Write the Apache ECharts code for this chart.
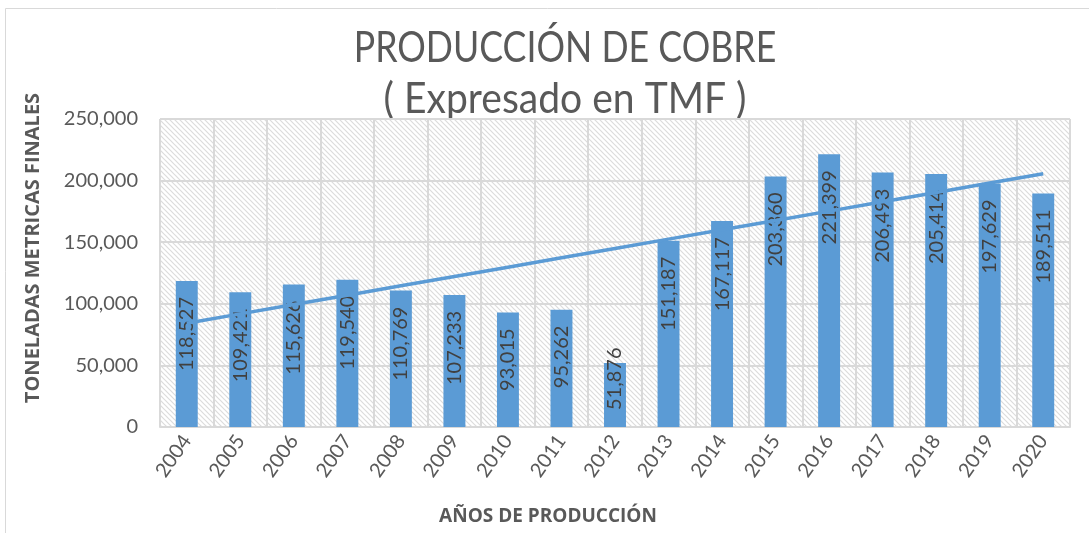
<!DOCTYPE html>
<html>
<head>
<meta charset="utf-8">
<script src="https://cdn.jsdelivr.net/npm/echarts@6/dist/echarts.min.js"></script>
<style>
  html, body { margin: 0; padding: 0; background: #fff; }
  #main { width: 1089px; height: 533px; }
</style>
</head>
<body>
<div id="main"></div>
<script>
    // datos de la grafica
    var years = ['2004','2005','2006','2007','2008','2009','2010','2011','2012','2013','2014','2015','2016','2017','2018','2019','2020'];
    var produccion = [118527, 109421, 115626, 119540, 110769, 107233, 93015, 95262, 51876, 151187, 167117, 203360, 221399, 206493, 205414, 197629, 189511];
    var yTicks = [0, 50000, 100000, 150000, 200000, 250000];

    // tendencia lineal (minimos cuadrados, como la linea de Excel)
    var n = produccion.length, sx = 0, sy = 0, sxy = 0, sxx = 0;
    for (var i = 0; i < n; i++) {
        sx += i; sy += produccion[i]; sxy += i * produccion[i]; sxx += i * i;
    }
    var b = (n * sxy - sx * sy) / (n * sxx - sx * sx);
    var a = (sy - b * sx) / n;
    var tendencia = produccion.map(function (v, i) { return a + b * i; });

    // barras cortas: la etiqueta se apoya en la base, como en Excel
    var barras = produccion.map(function (v) {
        if (v < 70000) {
            return { value: v, label: { position: 'insideBottom', align: 'left', distance: 17 } };
        }
        return v;
    });

    // fondo rayado
    var pat = document.createElement('canvas');
    pat.width = 5; pat.height = 5;
    var ctx = pat.getContext('2d');
    ctx.fillStyle = '#ffffff';
    ctx.fillRect(0, 0, 5, 5);
    ctx.strokeStyle = '#dcdcdc';
    ctx.lineWidth = 1.2;
    ctx.beginPath();
    ctx.moveTo(-1, -1); ctx.lineTo(6, 6);
    ctx.moveTo(-4, 1); ctx.lineTo(2, 7);
    ctx.moveTo(1, -4); ctx.lineTo(7, 2);
    ctx.stroke();

    var fmt = function (v) { return Number(v).toLocaleString('en-US'); };
    var gris = '#595959';

    var myChart = echarts.init(document.getElementById('main'));
    var option = {
        animation: false,
        textStyle: { fontFamily: 'Lato, "Open Sans", sans-serif' },
        graphic: [{
            type: 'rect',
            shape: { x: 5.5, y: 8.5, width: 1100, height: 540 },
            style: { fill: 'none', stroke: '#d9d9d9', lineWidth: 1 },
            silent: true
        }, {
            type: 'text',
            x: 565, y: 48, scaleX: 0.85,
            style: { text: 'PRODUCCIÓN DE COBRE', fill: gris, font: '400 42px Lato', align: 'center', verticalAlign: 'middle' }
        }, {
            type: 'text',
            x: 565, y: 99, scaleX: 0.93,
            style: { text: '( Expresado en TMF )', fill: gris, font: '400 42px Lato', align: 'center', verticalAlign: 'middle' }
        }, {
            type: 'text',
            x: 33, y: 248, rotation: Math.PI / 2,
            style: { text: 'TONELADAS METRICAS FINALES', fill: gris, font: 'bold 20px "Open Sans"', align: 'center', verticalAlign: 'middle' }
        }, {
            type: 'text',
            x: 548, y: 517,
            style: { text: 'AÑOS DE PRODUCCIÓN', fill: gris, font: 'bold 19px "Open Sans"', align: 'center', verticalAlign: 'middle' }
        }],
        grid: {
            left: 160, right: 19, top: 119, bottom: 106,
            show: true,
            backgroundColor: { image: pat, repeat: 'repeat' },
            borderWidth: 0
        },
        xAxis: {
            type: 'category',
            data: years,
            axisLine: { lineStyle: { color: '#d9d9d9', width: 2 } },
            axisTick: { show: false },
            splitLine: { show: true, lineStyle: { color: '#d9d9d9', width: 2 } },
            axisLabel: { rotate: 55, fontSize: 20, color: gris, margin: 10 }
        },
        yAxis: {
            type: 'value',
            min: 0, max: 250000, interval: 50000,
            axisLine: { show: false },
            axisTick: { show: false },
            splitLine: { lineStyle: { color: '#d9d9d9', width: 2 } },
            axisLabel: {
                fontSize: 20, color: gris, margin: 22,
                formatter: function (v) { return yTicks.indexOf(v) >= 0 ? fmt(v) : ''; }
            }
        },
        series: [{
            name: 'Producción',
            type: 'bar',
            data: barras,
            barWidth: '41%',
            itemStyle: { color: '#5b9bd5' },
            label: {
                show: true,
                position: 'insideTop',
                rotate: 90,
                align: 'right',
                verticalAlign: 'middle',
                distance: 16,
                fontSize: 20,
                color: '#404040',
                formatter: function (p) { return fmt(p.value); }
            },
            z: 2
        }, {
            name: 'Lineal',
            type: 'line',
            data: tendencia,
            symbol: 'none',
            lineStyle: { color: '#5b9bd5', width: 3.5 },
            z: 3
        }]
    };
    myChart.setOption(option);
</script>
</body>
</html>
